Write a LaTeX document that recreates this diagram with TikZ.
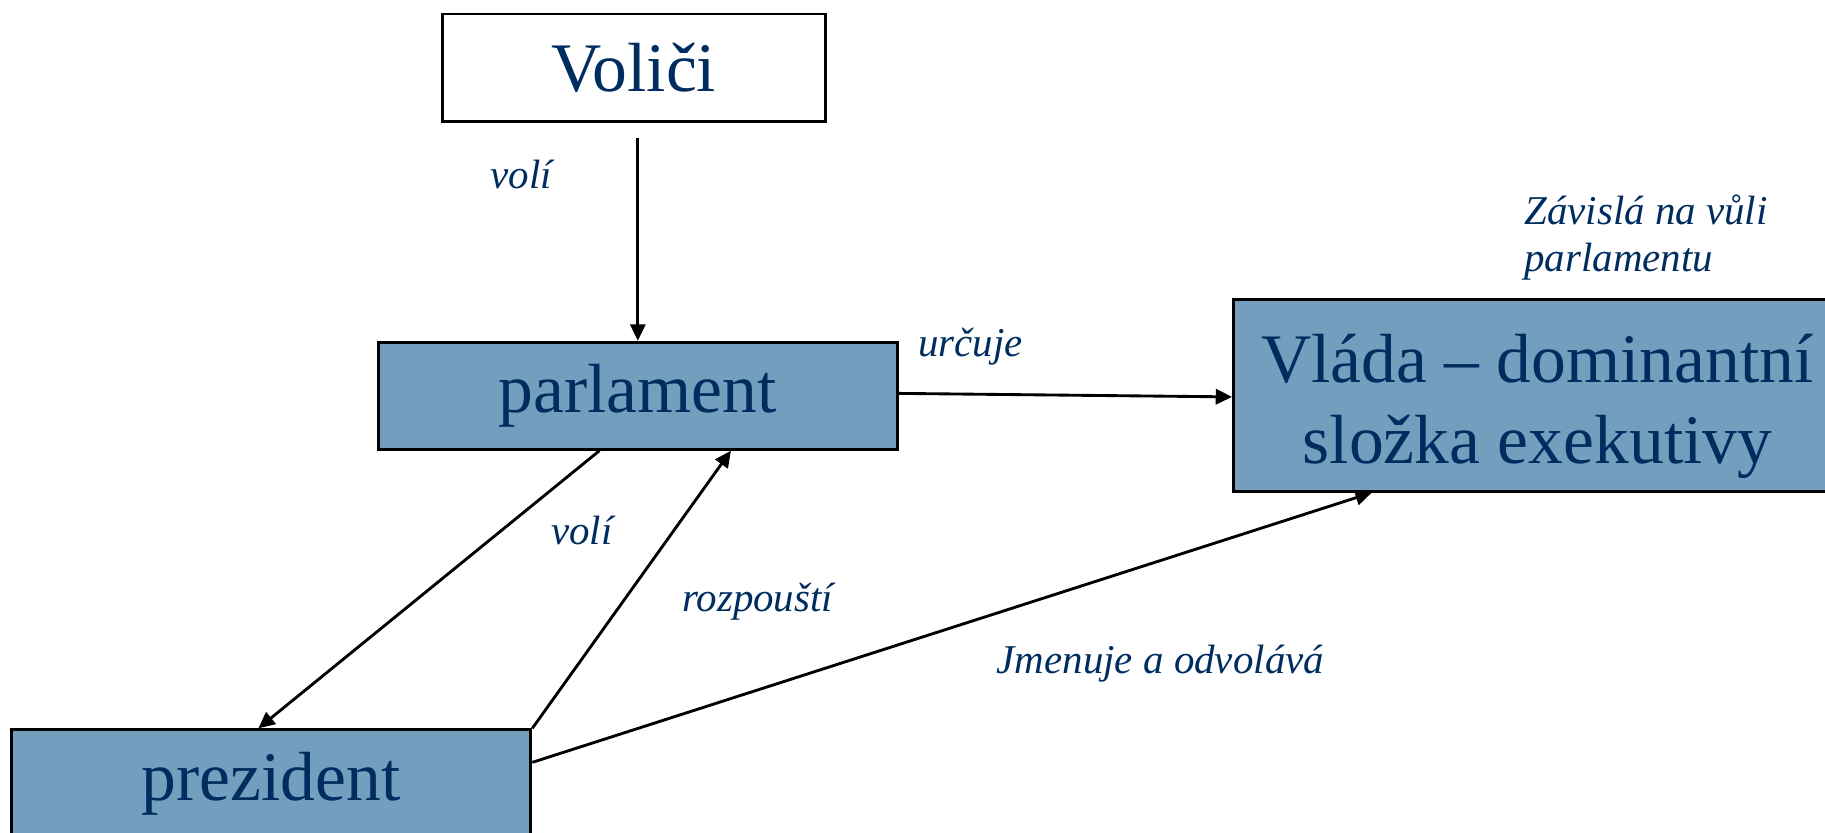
\documentclass[tikz,border=0pt]{standalone}
\usepackage{fontspec}
\setmainfont{Liberation Serif}
\usetikzlibrary{calc,arrows.meta}
\definecolor{boxblue}{RGB}{116,158,190}
\definecolor{txtblue}{RGB}{0,45,95}
\tikzset{
  bigbox/.style={draw=black,line width=0.7pt,fill=boxblue,text=txtblue,
    font=\fontsize{17}{19.9}\selectfont,inner sep=0pt,align=center},
  bigtext/.style={text=txtblue,font=\fontsize{17}{19.9}\selectfont,inner sep=0pt,align=center},
  lbl/.style={text=txtblue,font=\fontsize{10}{11.4}\selectfont\itshape,inner sep=0pt},
  conn/.style={line width=0.7pt,-{Triangle[length=4pt,width=3.7pt]}}
}
\begin{document}
\begin{tikzpicture}[x=0.01cm,y=-0.01cm]
\useasboundingbox (0,0) rectangle (1568,715);
\clip (0,0) rectangle (1568,715);
\node[bigbox,fill=white,minimum width=3.29cm,minimum height=0.92cm] (volici) at (544.5,58) {Voliči};
\node[bigbox,minimum width=4.46cm,minimum height=0.92cm] (parl) at (548,340) {parlament};
\node[bigbox,minimum width=5.22cm,minimum height=1.65cm] (vlada) at (1321,339.5) {};
\node[bigtext] (vladatext) at (1321,349) {Vláda – dominantní\\složka exekutivy};
\node[bigbox,minimum width=4.46cm,minimum height=0.92cm] (prez) at (233,673) {prezident};

\coordinate (vstart) at ($(volici.south)+(3.5,13)$);
\draw[conn] (vstart) -- (parl.north);
\draw[conn] ($(parl.east)+(0,-2)$) -- ($(vlada.west)+(0,1.5)$);
\draw[conn] ($(parl.south)+(-33,0)$) -- ($(prez.north)+(-11,0)$);
\draw[conn] (prez.north east) -- ($(parl.south)+(80,0)$);
\draw[conn] ($(prez.east)+(0,-18)$) -- ($(vlada.south west)+(120,0)$);

\node[lbl] (l1) at (448,150) {volí};
\node[lbl] (l2) at (834,298) {určuje};
\node[lbl] (l3) at (500,456) {volí};
\node[lbl] (l4) at (651,517) {rozpouští};
\node[lbl] (l5) at (997,570) {Jmenuje a odvolává};
\node[lbl,align=left,anchor=west] (l6) at (1309,204) {Závislá na vůli\\parlamentu};
\end{tikzpicture}
\end{document}
